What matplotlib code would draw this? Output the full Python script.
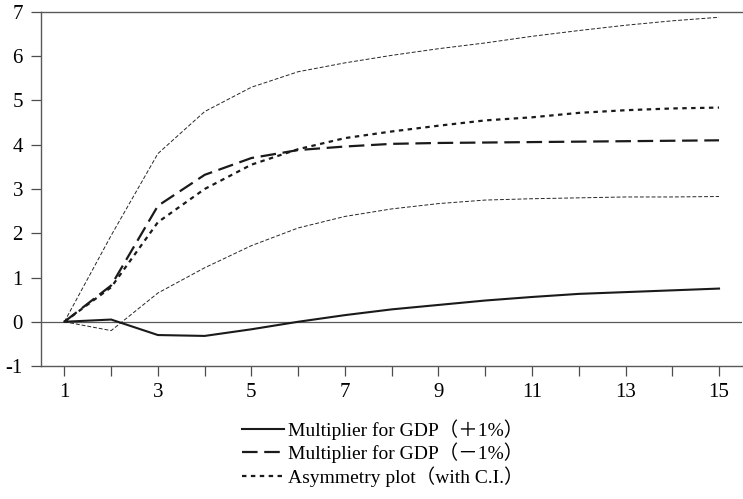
import matplotlib.pyplot as plt

periods = list(range(1, 16))
plus_1 = [0, 0.05, -0.30, -0.32, -0.17, 0.0, 0.15, 0.28, 0.38, 0.48, 0.56, 0.63, 0.67, 0.71, 0.75]
minus_1 = [0, 0.82, 2.62, 3.32, 3.70, 3.88, 3.96, 4.02, 4.04, 4.05, 4.06, 4.07, 4.08, 4.09, 4.10]
asym = [0, 0.78, 2.25, 3.00, 3.55, 3.90, 4.15, 4.30, 4.43, 4.55, 4.62, 4.72, 4.78, 4.82, 4.84]
ci_upper = [0, 1.95, 3.80, 4.75, 5.30, 5.65, 5.85, 6.02, 6.17, 6.30, 6.45, 6.58, 6.70, 6.80, 6.88]
ci_lower = [0, -0.20, 0.65, 1.22, 1.72, 2.12, 2.38, 2.55, 2.67, 2.75, 2.78, 2.80, 2.82, 2.82, 2.83]

labels = ['Multiplier for GDP（＋1%）', 'Multiplier for GDP（－1%）', 'Asymmetry plot（with C.I.）']
fams = ['Liberation Serif', 'Noto Sans CJK SC', 'DejaVu Serif']
plt.rcParams['font.family'] = fams

fig = plt.figure(figsize=(7.43, 4.99), dpi=100)
ax = fig.add_axes([0.0552, 0.2665, 0.944, 0.7095])

ax.axhline(0, color='0.35', lw=0.9)
ax.plot(periods, ci_upper, color='0.15', lw=0.7, dashes=(4, 2))
ax.plot(periods, ci_lower, color='0.15', lw=0.7, dashes=(4, 2))
l1, = ax.plot(periods, plus_1, color='0.1', lw=1.5)
l2, = ax.plot(periods, minus_1, color='0.1', lw=1.6, dashes=(7, 3))
l3, = ax.plot(periods, asym, color='0.1', lw=1.6, dashes=(2, 2))

ax.set_xlim(0.5, 15.5)
ax.set_ylim(-1, 7)
ax.set_xticks(range(1, 16, 2))
ax.set_xticks(range(1, 16), minor=True)
ax.set_yticks(range(-1, 8))
ax.set_yticklabels(['-1'] + [str(v) for v in range(0, 8)])
ax.tick_params(axis='both', labelsize=15, color='0.3', length=7, width=0.9)
ax.tick_params(axis='x', which='minor', length=7, width=0.9, color='0.3')
ax.tick_params(axis='x', pad=5)
ax.tick_params(axis='y', pad=6)
for s in ['left', 'bottom', 'top']:
    ax.spines[s].set_color('0.35')
    ax.spines[s].set_linewidth(1.0)
ax.spines['right'].set_visible(False)

fig.legend([l1, l2, l3], labels, loc='upper center', bbox_to_anchor=(0.515, 0.180),
           frameon=False, fontsize=14, handlelength=2.2, handletextpad=0.2,
           labelspacing=0.15, borderpad=0)

fig.savefig('out.png', dpi=100)
